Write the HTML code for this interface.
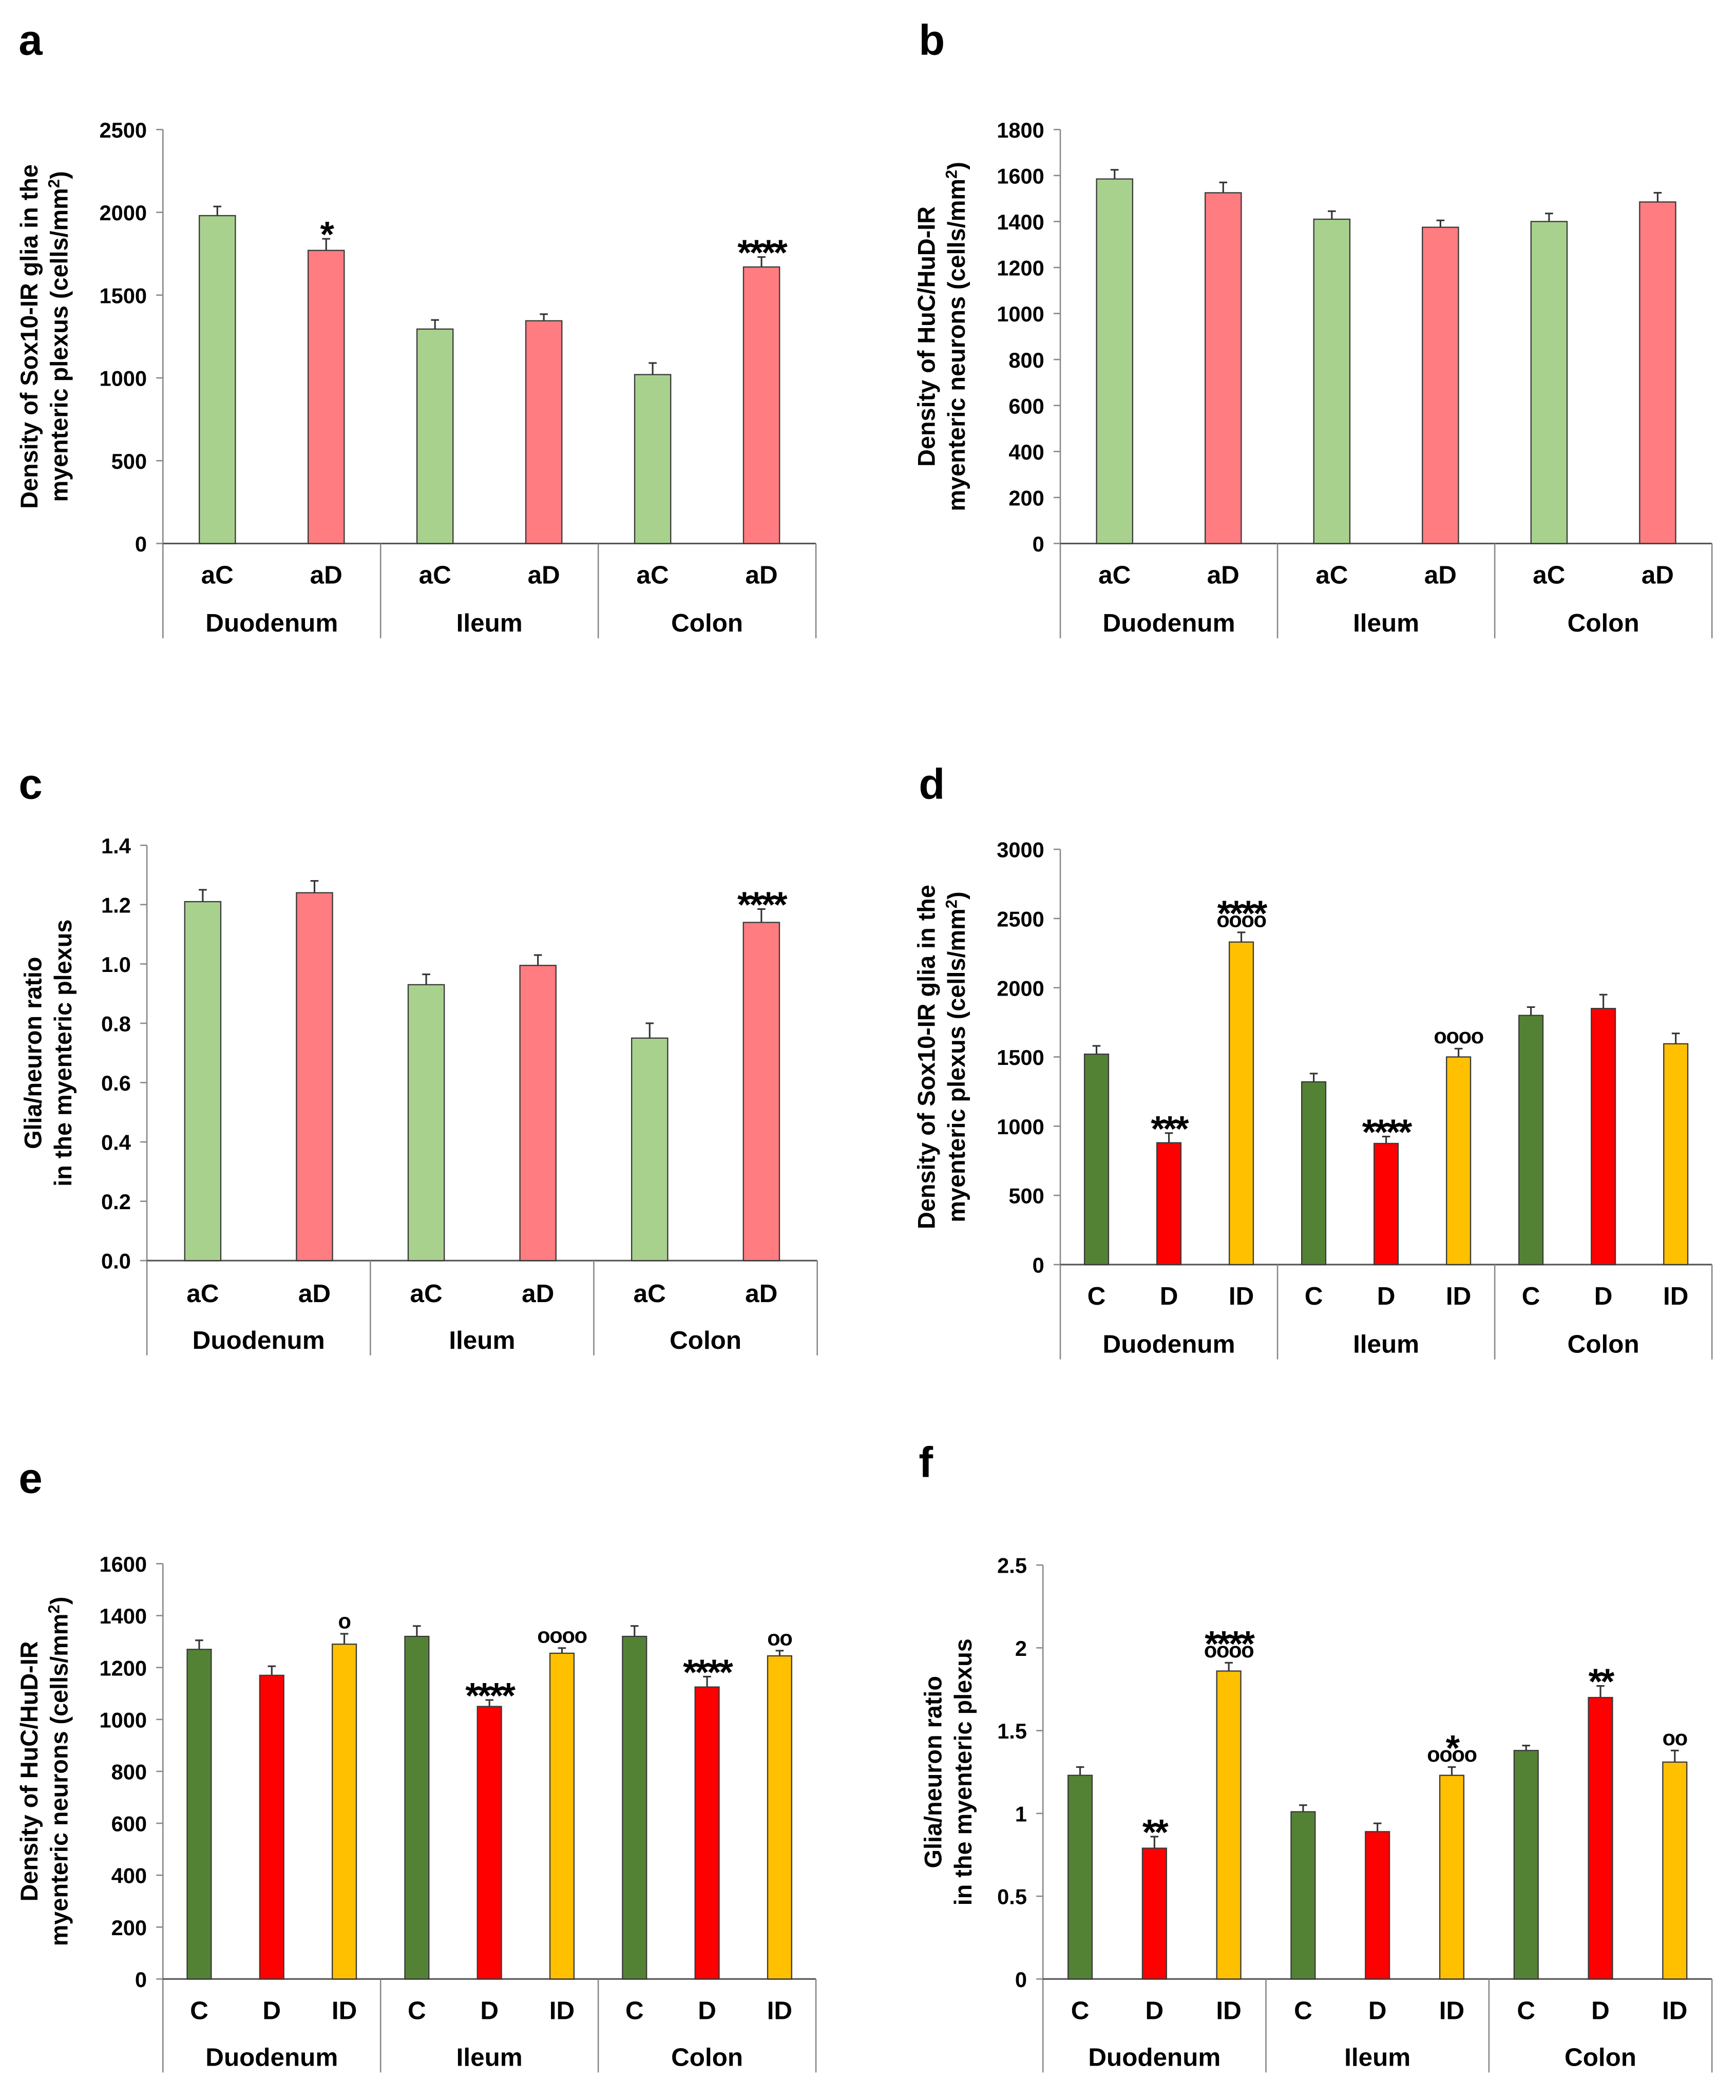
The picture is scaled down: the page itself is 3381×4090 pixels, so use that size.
<!DOCTYPE html>
<html><head><meta charset="utf-8"><style>
html,body{margin:0;padding:0;background:#fff;}
svg{display:block;font-family:"Liberation Sans Narrow","Liberation Sans",Arial,sans-serif;font-weight:bold;}
</style></head><body>
<svg id="fig" width="3381" height="4090" viewBox="0 0 1300 1572.6" preserveAspectRatio="none" xmlns="http://www.w3.org/2000/svg"></svg>
<script>
const groupNames = ["Duodenum","Ileum","Colon"];
const catsAB = ["aC","aD"];
const catsCDI = ["C","D","ID"];
const aValues = [1980,1770,1295,1345,1020,1670];
const aErrors = [55,70,55,40,70,60];
const aStars = ["","*","","","","****"];
const aCircles = ["","","","","",""];
const aTicks = [0,500,1000,1500,2000,2500];
const bValues = [1585,1525,1410,1375,1400,1485];
const bErrors = [40,45,35,30,35,40];
const bStars = ["","","","","",""];
const bCircles = ["","","","","",""];
const bTicks = [0,200,400,600,800,1000,1200,1400,1600,1800];
const cValues = [1.21,1.24,0.93,0.995,0.75,1.14];
const cErrors = [0.04,0.04,0.035,0.035,0.05,0.045];
const cStars = ["","","","","","****"];
const cCircles = ["","","","","",""];
const cTicks = [0,0.2,0.4,0.6,0.8,1.0,1.2,1.4];
const dValues = [1520,880,2330,1320,875,1500,1800,1850,1595];
const dErrors = [60,70,70,60,50,60,60,100,75];
const dStars = ["","***","****","","****","","","",""];
const dCircles = ["","","oooo","","","oooo","","",""];
const dTicks = [0,500,1000,1500,2000,2500,3000];
const eValues = [1270,1170,1290,1320,1050,1255,1320,1125,1245];
const eErrors = [35,35,40,40,25,20,40,40,20];
const eStars = ["","","","","****","","","****",""];
const eCircles = ["","","o","","","oooo","","","oo"];
const eTicks = [0,200,400,600,800,1000,1200,1400,1600];
const fValues = [1.23,0.79,1.86,1.01,0.89,1.23,1.38,1.70,1.31];
const fErrors = [0.05,0.07,0.05,0.04,0.05,0.05,0.03,0.07,0.07];
const fStars = ["","**","****","","","*","","**",""];
const fCircles = ["","","oooo","","","oooo","","","oo"];
const fTicks = [0,0.5,1,1.5,2,2.5];

const NS="http://www.w3.org/2000/svg";
const svg=document.getElementById('fig');
function mk(tag,attrs,parent,txt){const e=document.createElementNS(NS,tag);for(const k in attrs)e.setAttribute(k,attrs[k]);if(txt!==undefined)e.textContent=txt;(parent||svg).appendChild(e);return e;}

const lightCols=["#a9d18e","#ff7c80"];
const darkCols=["#548235","#ff0000","#ffc000"];

function panel(p){
  const g=mk('g',{});
  
  
  const lt=mk('text',{x:p.lx,y:p.ly,'font-size':32,fill:'#000'},g,p.id);
  
  
  const max=p.ticks[p.ticks.length-1];
  const y=v=>p.y0-(v/max)*(p.y0-p.yt);
  const ax=mk('line',{x1:p.x0,y1:p.yt,x2:p.x0,y2:p.bot,stroke:'#888','stroke-width':1},g);
  
  
  const bx=mk('line',{x1:p.x0,y1:p.y0,x2:p.x1,y2:p.y0,stroke:'#555','stroke-width':1.2},g);
  
  
  p.ticks.forEach(t=>{
    mk('line',{x1:p.x0-5,y1:y(t),x2:p.x0,y2:y(t),stroke:'#888'},g);
    const tl=mk('text',{x:p.x0-12,y:y(t)+6,'font-size':16,'text-anchor':'end'},g,p.fmt(t));
    
    
  });
  const gw=(p.x1-p.x0)/3;
  const n=p.cats.length;
  for(let gi=0;gi<3;gi++){
    const gx=p.x0+gi*gw;
    mk('line',{x1:gx+gw,y1:p.y0,x2:gx+gw,y2:p.bot,stroke:'#888'},g);
    const gl=mk('text',{x:gx+gw/2,y:p.bot-5,'font-size':19,'text-anchor':'middle'},g,groupNames[gi]);
    
    
    for(let ci=0;ci<n;ci++){
      const i=gi*n+ci;
      const cx=gx+gw*(2*ci+1)/(2*n);
      const v=p.vals[i],e=p.errs[i];
      const top=y(v);
      const ey=y(v+e);
      mk('line',{x1:cx,y1:top,x2:cx,y2:ey,stroke:'#333','stroke-width':1.2},g);
      mk('line',{x1:cx-3,y1:ey,x2:cx+3,y2:ey,stroke:'#333','stroke-width':1.2},g);
      const r=mk('rect',{x:cx-p.bw/2,y:top,width:p.bw,height:p.y0-top,fill:p.cols[ci],stroke:'#3a3a3a','stroke-width':0.9},g);
      
      
      const cl=mk('text',{x:cx,y:p.catY,'font-size':19,'text-anchor':'middle'},g,p.cats[ci]);
      
      
      let ay=ey-4;
      if(p.circ[i]){
        const c=mk('text',{x:cx,y:ay,'font-size':16,'text-anchor':'middle','letter-spacing':'-0.5'},g,p.circ[i]);
        
        
        ay-=11;
      }
      if(p.stars[i]){
        const s=mk('text',{x:cx,y:ay+10,'font-size':27,'text-anchor':'middle','letter-spacing':'-1.5'},g,p.stars[i]);
        
        
      }
    }
  }
  const cy=(p.yt+p.y0)/2;
  const tt=mk('text',{transform:`translate(${p.tx},${cy}) rotate(-90)`,'font-size':p.tfs,'text-anchor':'middle'},g);
  
  
  p.title.forEach((line,k)=>{
    const ts=mk('tspan',{x:0,y:k*p.tfs*1.25},tt);
    ts.innerHTML=line;
  });
}
const intF=t=>String(t), dec1=t=>t.toFixed(1), gen=t=>String(t);
const titleSox=["Density of Sox10-IR glia in the","myenteric plexus (cells/mm<tspan dy='-6' font-size='12'>2</tspan><tspan dy='6'>)</tspan>"];
const titleHu=["Density of  HuC/HuD-IR","myenteric neurons (cells/mm<tspan dy='-6' font-size='12'>2</tspan><tspan dy='6'>)</tspan>"];
const titleRatio=["Glia/neuron ratio","in the myenteric plexus"];
panel({id:'a',lx:14,ly:41,x0:122,x1:611,yt:97,y0:407,bot:478,catY:437,ticks:aTicks,fmt:intF,cats:catsAB,cols:lightCols,vals:aValues,errs:aErrors,stars:aStars,circ:aCircles,bw:27,tx:28,tfs:18,title:titleSox});
panel({id:'b',lx:688,ly:41,x0:794,x1:1282,yt:97,y0:407,bot:478,catY:437,ticks:bTicks,fmt:intF,cats:catsAB,cols:lightCols,vals:bValues,errs:bErrors,stars:bStars,circ:bCircles,bw:27,tx:700,tfs:18,title:titleHu});
panel({id:'c',lx:14,ly:598,x0:110,x1:612,yt:633,y0:944,bot:1015,catY:975,ticks:cTicks,fmt:dec1,cats:catsAB,cols:lightCols,vals:cValues,errs:cErrors,stars:cStars,circ:cCircles,bw:27,tx:31,tfs:18,title:titleRatio});
panel({id:'d',lx:688,ly:598,x0:794,x1:1282,yt:636,y0:947,bot:1018,catY:977,ticks:dTicks,fmt:intF,cats:catsCDI,cols:darkCols,vals:dValues,errs:dErrors,stars:dStars,circ:dCircles,bw:18,tx:700,tfs:18,title:titleSox});
panel({id:'e',lx:14,ly:1118,x0:122,x1:611,yt:1171,y0:1482,bot:1552,catY:1512,ticks:eTicks,fmt:intF,cats:catsCDI,cols:darkCols,vals:eValues,errs:eErrors,stars:eStars,circ:eCircles,bw:18,tx:28,tfs:18,title:titleHu});
panel({id:'f',lx:688,ly:1106,x0:781,x1:1282,yt:1172,y0:1482,bot:1552,catY:1512,ticks:fTicks,fmt:gen,cats:catsCDI,cols:darkCols,vals:fValues,errs:fErrors,stars:fStars,circ:fCircles,bw:18,tx:705,tfs:18,title:titleRatio});
</script>
</body></html>
